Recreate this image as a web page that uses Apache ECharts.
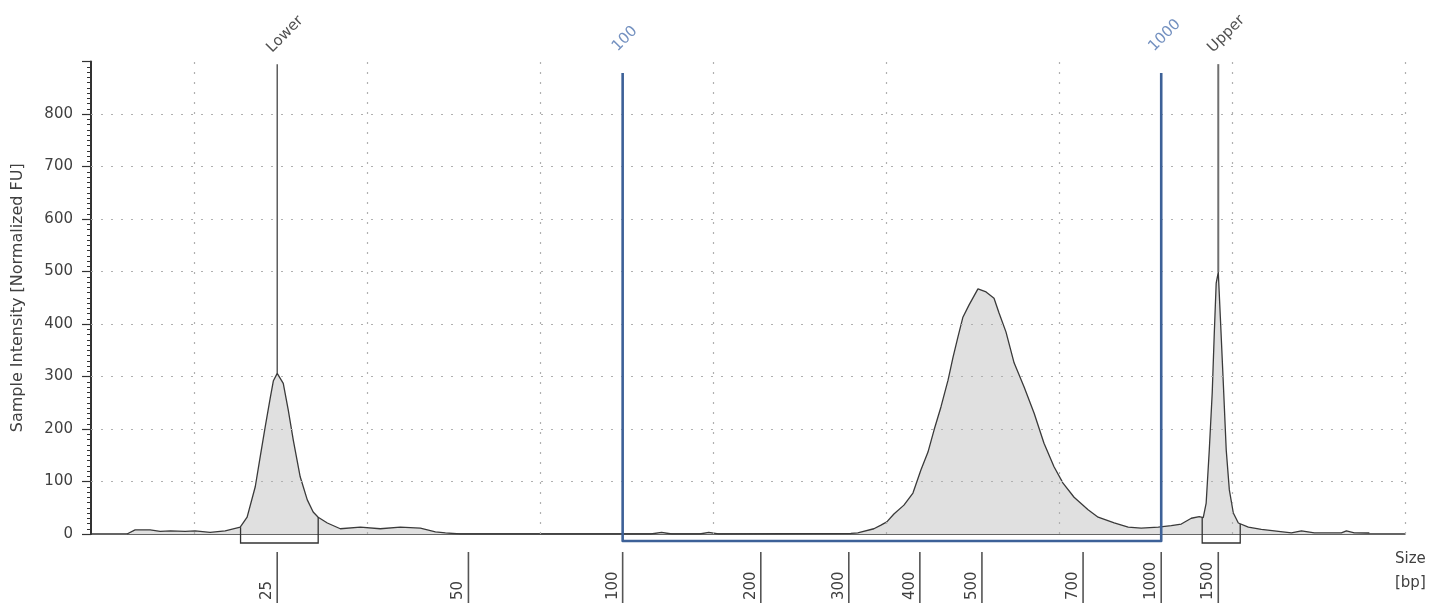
<!DOCTYPE html>
<html><head><meta charset="utf-8">
<script src="https://cdn.jsdelivr.net/npm/echarts@6/dist/echarts.min.js"></script>
<style>html,body{margin:0;padding:0;background:#fff}#chart{width:1446px;height:608px}</style>
</head><body><div id="chart"></div>
<script>
// Migration position (arbitrary time units) and sample intensity [FU]
const migrationTime = [2.08,2.55,3.42,4.00,4.60,5.44,6.02,6.89,7.76,8.63,9.03,9.50,9.79,10.08,10.36,10.55,10.77,11.12,11.41,11.70,12.10,12.51,12.85,13.14,13.67,14.42,15.58,16.73,17.89,19.05,19.92,20.50,21.37,32.37,33.00,33.60,35.20,35.73,36.30,43.95,44.35,45.28,45.69,46.03,46.44,47.02,47.54,48.00,48.41,48.76,49.16,49.57,49.86,50.14,50.43,50.78,51.30,51.77,52.23,52.52,52.92,53.39,53.97,54.55,55.12,55.70,56.22,56.86,57.67,58.25,59.18,59.99,60.74,61.73,62.48,63.06,63.64,64.10,64.33,64.50,64.68,64.85,64.97,65.08,65.20,65.32,65.49,65.66,65.84,66.07,66.36,66.94,67.69,68.44,69.43,70.01,70.76,72.32,72.61,73.07,73.94];
const intensity = [0,8,8,5,6,5,6,3,6,13,32,90,148,205,258,292,306,287,236,179,109,65,42,32,21,10,13,10,13,11,4,2,0,0,3,0,0,3,0,1,2,10,17,23,38,55,78,122,156,198,242,293,337,375,413,436,467,461,449,421,385,326,280,230,173,128,97,70,46,32,21,13,11,13,16,19,30,33,31,59,160,269,383,478,499,413,288,160,84,40,21,13,9,6,2,6,2,2,6,2,2];

const gridTimes = [6,16,26,36,46,56,66,76];
const gridIntensities = [100,200,300,400,500,600,700,800];

// Ladder sizes [bp] and their migration positions
const sizeLabels = [25,50,100,200,300,400,500,700,1000,1500];
const sizeTimes = [10.77,21.83,30.75,38.74,43.83,47.94,51.53,57.38,61.90,65.20];

// Markers
const markerNames = ['Lower','Upper'];
const markerTimes = [10.77,65.20];
const markerPeaks = [306,499];
const markerBoxStart = [8.65,64.27];
const markerBoxEnd = [13.14,66.47];
const markerBoxStartLevel = [13,31];
const markerBoxEndLevel = [32,19];
const markerTop = 895;

// Region of interest
const regionLabels = ['100','1000'];
const regionTimes = [30.75,61.90];
const regionTop = 878;

const FONT = '"DejaVu Sans", sans-serif';
const TEXT = '#404040';

const chart = echarts.init(document.getElementById('chart'), null, {renderer:'canvas'});

const markerData = markerTimes.map((t,i)=>[t, markerPeaks[i], markerBoxStart[i], markerBoxEnd[i], markerBoxStartLevel[i], markerBoxEndLevel[i], i]);
const sizeData = sizeTimes.map((t,i)=>[t, sizeLabels[i]]);
const regionData = [[regionTimes[0], regionTimes[1]]];

chart.setOption({
  animation:false,
  backgroundColor:'#fff',
  grid:{left:91, right:41, top:61.5, bottom:74},
  xAxis:{type:'value', min:0, max:76,
    axisLine:{show:true, onZero:false, lineStyle:{color:'#333', width:1.5}},
    axisTick:{show:false}, axisLabel:{show:false}, splitLine:{show:false}},
  yAxis:{type:'value', min:0, max:900, interval:100,
    name:'Sample Intensity [Normalized FU]', nameLocation:'middle', nameGap:65, nameRotate:90,
    nameTextStyle:{color:TEXT, fontSize:16, fontFamily:FONT},
    axisLine:{show:true, lineStyle:{color:'#333', width:2}},
    axisTick:{show:true, length:9, lineStyle:{color:'#333', width:1.2}},
    minorTick:{show:true, splitNumber:10, length:4, lineStyle:{color:'#333', width:1}},
    axisLabel:{color:TEXT, fontSize:15, fontFamily:FONT, margin:18, showMaxLabel:false,
      formatter:v=> v>=900 ? '' : String(v)},
    splitLine:{show:false}},
  graphic:[{type:'text', left:1395, top:547, style:{text:'Size\n[bp]', font:'15px '+FONT, fill:TEXT, lineHeight:24}}],
  series:[
    {type:'line', name:'Sample', data:migrationTime.map((t,i)=>[t,intensity[i]]),
      symbol:'none', smooth:false, z:2,
      lineStyle:{color:'#3a3a3a', width:1.3},
      areaStyle:{color:'#e0e0e0', opacity:1},
      markLine:{silent:true, symbol:'none', label:{show:false}, z:3,
        lineStyle:{color:'#b0b0b0', type:[2,8], width:1.2},
        data:[...gridTimes.map(x=>({xAxis:x})), ...gridIntensities.map(y=>({yAxis:y}))]}
    },
    {type:'custom', name:'markers', clip:false, z:5, data:markerData,
      renderItem:(params, api)=>{
        const t = api.value(0), pk = api.value(1);
        const top = api.coord([t, markerTop]);
        const peak = api.coord([t, pk]);
        const base = api.coord([0,0])[1];
        const bs = api.coord([api.value(2), api.value(4)]);
        const be = api.coord([api.value(3), api.value(5)]);
        const idx = api.value(6);
        return {type:'group', children:[
          {type:'line', shape:{x1:top[0], y1:top[1], x2:peak[0], y2:peak[1]},
            style:{stroke: idx===1 ? '#707070' : '#444', lineWidth: idx===1 ? 2 : 1.3}},
          {type:'polyline', shape:{points:[[bs[0],bs[1]],[bs[0],base+9],[be[0],base+9],[be[0],be[1]]]},
            style:{stroke:'#333', lineWidth:1.3, fill:null}},
          {type:'text', x:top[0]-8, y:top[1]-14, rotation:Math.PI/4,
            style:{x:0, y:0, text:markerNames[idx], fill:'#505050', font:'15px '+FONT, align:'left', verticalAlign:'middle'}}
        ]};
      }},
    {type:'custom', name:'region', clip:false, z:6, data:regionData,
      renderItem:(params, api)=>{
        const a = api.coord([api.value(0), regionTop]);
        const b = api.coord([api.value(1), regionTop]);
        const base = api.coord([0,0])[1];
        return {type:'group', children:[
          {type:'polyline', shape:{points:[[a[0],a[1]],[a[0],base+7],[b[0],base+7],[b[0],b[1]]]},
            style:{stroke:'#3d6198', lineWidth:2.6, fill:null, lineJoin:'round'}},
          {type:'text', x:a[0]-8, y:a[1]-24, rotation:Math.PI/4,
            style:{x:0,y:0,text:regionLabels[0], fill:'#7491c0', font:'15px '+FONT, align:'left', verticalAlign:'middle'}},
          {type:'text', x:b[0]-10, y:b[1]-24, rotation:Math.PI/4,
            style:{x:0,y:0,text:regionLabels[1], fill:'#7491c0', font:'15px '+FONT, align:'left', verticalAlign:'middle'}}
        ]};
      }},
    {type:'custom', name:'sizes', clip:false, z:5, data:sizeData,
      renderItem:(params, api)=>{
        const p = api.coord([api.value(0), 0]);
        return {type:'group', children:[
          {type:'line', shape:{x1:p[0], y1:p[1]+18, x2:p[0], y2:p[1]+69},
            style:{stroke:'#555', lineWidth:1.6}},
          {type:'text', x:p[0]-10, y:p[1]+66, rotation:Math.PI/2,
            style:{x:0,y:0,text:String(api.value(1)), fill:TEXT, font:'15px '+FONT, align:'left', verticalAlign:'middle'}}
        ]};
      }}
  ]
});
</script></body></html>
